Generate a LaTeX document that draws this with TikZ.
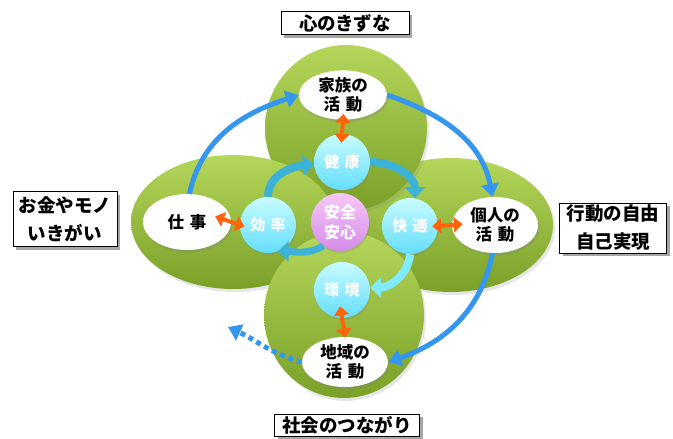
\documentclass[tikz,border=0pt]{standalone}
\usepackage{fontspec}
\setmainfont{Noto Sans CJK JP}
\usetikzlibrary{shapes.geometric,arrows.meta,shadows}
\definecolor{gA}{RGB}{180,214,90}
\definecolor{gB}{RGB}{122,160,40}
\definecolor{cyA}{RGB}{200,252,255}
\definecolor{cyB}{RGB}{100,222,250}
\definecolor{pkA}{RGB}{248,200,248}
\definecolor{pkB}{RGB}{212,140,232}
\definecolor{bigblue}{RGB}{52,150,238}
\definecolor{midcyan}{RGB}{60,178,215}
\definecolor{litecyan}{RGB}{130,236,255}
\definecolor{orng}{RGB}{255,100,10}
\newcommand{\gp}{\hspace{0.35em}}
\tikzset{
  blob/.style={ellipse, draw=none, top color=gA, bottom color=gB, inner sep=0pt,
    drop shadow={shadow xshift=2pt, shadow yshift=-3pt, opacity=0.2}},
  wnode/.style={ellipse, fill=white, inner sep=0pt, align=center,
    font=\bfseries\fontsize{16.5}{19}\selectfont,
    drop shadow={shadow xshift=1.5pt, shadow yshift=-2.5pt, opacity=0.3}},
  ball/.style={circle, top color=cyA, bottom color=cyB, draw=none, inner sep=0pt,
    minimum size=56pt, text=white, font=\bfseries\fontsize{15}{18}\selectfont,
    drop shadow={shadow xshift=1pt, shadow yshift=-2pt, opacity=0.25}},
  pball/.style={ball, top color=pkA, bottom color=pkB, minimum size=58pt, align=center,
    font=\bfseries\fontsize{16}{20}\selectfont},
  lbl/.style={rectangle, draw=black, line width=0.6pt, fill=white, align=center,
    font=\bfseries\fontsize{18.5}{28}\selectfont, inner xsep=4pt, inner ysep=2pt,
    drop shadow={shadow xshift=3pt, shadow yshift=-3pt, fill=gray!70, opacity=1}},
  bigarr/.style={draw=bigblue, line width=5pt, -{Triangle[length=13pt,width=17pt]}},
  cyarr/.style={draw=midcyan, line width=8pt, -{Triangle[length=11pt,width=20pt]}},
  orarr/.style={draw=orng, line width=4pt, {Triangle[length=9pt,width=15pt]}-{Triangle[length=9pt,width=15pt]}}
}
\begin{document}
\begin{tikzpicture}[x=1pt,y=-1pt]
\useasboundingbox (0,0) rectangle (673,439);
% green blobs
\node[blob, minimum width=204pt, minimum height=134pt] (gr) at (451,225) {};
\node[blob, minimum width=162pt, minimum height=166pt] (gt) at (346,128) {};
\node[blob, minimum width=204pt, minimum height=134pt] (gl) at (233,222) {};
\node[blob, minimum width=160pt, minimum height=166pt] (gb) at (344,315) {};
% white nodes
\node[wnode, minimum width=88pt, minimum height=48pt] (fam) at (343,95) {家族の\\活\gp 動};
\node[wnode, minimum width=88pt, minimum height=56pt] (job) at (187,222) {仕\gp 事};
\node[wnode, minimum width=86pt, minimum height=56pt] (pers) at (495,225) {個人の\\活\gp 動};
\node[wnode, minimum width=86pt, minimum height=50pt] (reg) at (345,362) {地域の\\活\gp 動};
% balls
\node[ball] (ken) at (342,162) {健\gp 康};
\node[ball] (kou) at (268,225) {効\gp 率};
\node[ball] (kai) at (410,226) {快\gp 適};
\node[ball] (kan) at (342,290) {環\gp 境};
\node[pball] (anz) at (340,222) {安全\\安心};
% big blue arrows
\draw[bigarr] (job.85) to[out=78,in=198] (fam.west);
\draw[bigarr] (fam.east) to[out=-19,in=101] (pers.95);
\draw[bigarr] (pers.-95) to[out=-101,in=19] (reg.east);
\coordinate (dotend) at (228,327);
\draw[bigarr, dash pattern=on 5pt off 4pt] (reg.west) to[out=165,in=-25] (dotend);
% inner cyan arrows
\draw[cyarr] (kou.90) to[out=90,in=185] (ken.185);
\draw[cyarr] (ken.0) to[out=0,in=90] (kai.80);
\draw[cyarr, draw=litecyan] (kai.-90) to[out=-95,in=0] (kan.5);
\draw[cyarr, line width=7pt] (anz.235) to[out=210,in=0] (kou.-70);
% orange double arrows
\draw[orarr, shorten <=-6pt, shorten >=-9pt] (fam.south) -- (ken.north);
\draw[orarr, shorten <=-17pt, shorten >=-5pt] (job.east) -- (kou.west);
\draw[orarr, shorten <=-6pt, shorten >=-11pt] (kai.east) -- (pers.west);
\draw[orarr, shorten <=-12pt, shorten >=-1pt] (kan.south) -- (reg.north);
% labels
\node[lbl, minimum width=128pt, minimum height=23pt] (l1) at (345,23) {心のきずな};
\node[lbl, minimum width=104pt, minimum height=55pt] (l2) at (65,219) {お金やモノ\\いきがい};
\node[lbl, minimum width=107pt, minimum height=50pt] (l3) at (613,228) {行動の自由\\自己実現};
\node[lbl, minimum width=145pt, minimum height=22pt] (l4) at (347,425) {社会のつながり};
\end{tikzpicture}
\end{document}
